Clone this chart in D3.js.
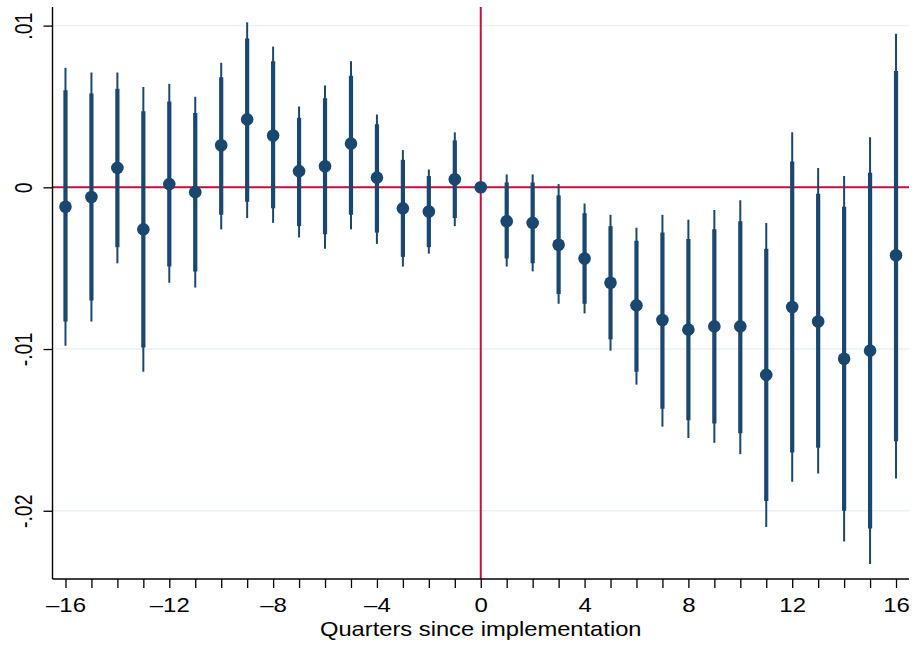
<!DOCTYPE html>
<html>
<head>
<meta charset="utf-8">
<script src="https://cdn.jsdelivr.net/npm/d3@7"></script>
<style>
  html, body { margin: 0; padding: 0; background: #fff; }
  svg { display: block; font-family: "Liberation Sans", Arial, Helvetica, sans-serif; }
</style>
</head>
<body>
<svg id="chart" width="912" height="648"></svg>
<script>
// Event-study estimates by quarter relative to implementation (quarter 0 is the reference)
const quarters = [-16,-15,-14,-13,-12,-11,-10,-9,-8,-7,-6,-5,-4,-3,-2,-1,0,1,2,3,4,5,6,7,8,9,10,11,12,13,14,15,16];
const estimate = [-0.0012,-0.0006,0.0012,-0.0026,0.0002,-0.0003,0.0026,0.0042,0.0032,0.0010,0.0013,0.0027,0.0006,-0.0013,-0.0015,0.0005,0,
  -0.0021,-0.0022,-0.00355,-0.0044,-0.0059,-0.0073,-0.0082,-0.0088,-0.0086,-0.0086,-0.0116,-0.0074,-0.0083,-0.0106,-0.0101,-0.0042];
// Inner (thick) confidence band
const lo90 = [-0.0083,-0.0070,-0.0037,-0.0099,-0.0049,-0.0052,-0.0017,-0.0009,-0.0013,-0.0024,-0.0029,-0.0017,-0.0028,-0.0043,-0.0037,-0.0019,null,
  -0.0044,-0.0047,-0.0066,-0.0072,-0.0094,-0.0114,-0.0137,-0.0144,-0.0146,-0.0152,-0.0194,-0.0164,-0.0161,-0.0200,-0.0211,-0.0157];
const hi90 = [0.0060,0.0058,0.0061,0.0047,0.0053,0.0046,0.0068,0.0092,0.0078,0.0043,0.0055,0.0069,0.0039,0.0017,0.0007,0.0029,null,
  0.0003,0.0003,-0.0005,-0.0016,-0.0024,-0.0033,-0.0028,-0.0032,-0.0026,-0.0021,-0.0038,0.0016,-0.0004,-0.0012,0.0009,0.0072];
// Outer (thin) confidence band
const lo95 = [-0.0098,-0.0083,-0.0047,-0.0114,-0.0059,-0.0062,-0.0026,-0.0019,-0.0022,-0.0031,-0.0038,-0.0026,-0.0035,-0.0049,-0.0041,-0.0024,null,
  -0.0049,-0.0052,-0.0072,-0.0078,-0.0101,-0.0122,-0.0148,-0.0155,-0.0158,-0.0165,-0.0210,-0.0182,-0.0177,-0.0219,-0.0233,-0.0180];
const hi95 = [0.0074,0.0071,0.0071,0.0062,0.0064,0.0056,0.0077,0.0102,0.0087,0.0050,0.0063,0.0078,0.0045,0.0023,0.0011,0.0034,null,
  0.0008,0.0008,0.0002,-0.0010,-0.0017,-0.0025,-0.0017,-0.0020,-0.0014,-0.0008,-0.0022,0.0034,0.0012,0.0007,0.0031,0.0095];

const xTickValues = [-16,-12,-8,-4,0,4,8,12,16];
const yTickValues = [0.01, 0, -0.01, -0.02];
const yTickLabels = [".01", "0", "-.01", "-.02"];
const xTitle = "Quarters since implementation";

const navy = "#1a476f";
const red = "#c8103a";
const grid = "#eaf2f3";

const plot = { left: 52.5, right: 909, top: 7, bottom: 579 };

const svg = d3.select("#chart");

const x = d3.scaleLinear().domain([-16.5, 16.5]).range([plot.left, plot.right]);
const y = d3.scaleLinear().domain([-0.02422, 0.01115]).range([plot.bottom, plot.top]);

const rows = quarters.map((q, i) => ({
  q, est: estimate[i], lo90: lo90[i], hi90: hi90[i], lo95: lo95[i], hi95: hi95[i]
}));

// Horizontal grid lines
svg.append("g")
  .selectAll("line")
  .data(yTickValues)
  .join("line")
  .attr("x1", plot.left).attr("x2", plot.right)
  .attr("y1", d => y(d)).attr("y2", d => y(d))
  .attr("stroke", grid).attr("stroke-width", 1.5);

// Reference lines at zero effect and at implementation
svg.append("line")
  .attr("x1", plot.left).attr("x2", plot.right)
  .attr("y1", y(0)).attr("y2", y(0))
  .attr("stroke", red).attr("stroke-width", 2);
svg.append("line")
  .attr("x1", x(0)).attr("x2", x(0))
  .attr("y1", plot.top).attr("y2", plot.bottom)
  .attr("stroke", red).attr("stroke-width", 2);

const ci = rows.filter(d => d.lo95 !== null);

// Outer intervals (thin)
svg.append("g")
  .selectAll("line")
  .data(ci)
  .join("line")
  .attr("x1", d => x(d.q)).attr("x2", d => x(d.q))
  .attr("y1", d => y(d.lo95)).attr("y2", d => y(d.hi95))
  .attr("stroke", navy).attr("stroke-width", 2).attr("stroke-linecap", "butt");

// Inner intervals (thick)
svg.append("g")
  .selectAll("line")
  .data(ci)
  .join("line")
  .attr("x1", d => x(d.q)).attr("x2", d => x(d.q))
  .attr("y1", d => y(d.lo90)).attr("y2", d => y(d.hi90))
  .attr("stroke", navy).attr("stroke-width", 4.2).attr("stroke-linecap", "butt");

// Point estimates
svg.append("g")
  .selectAll("circle")
  .data(rows)
  .join("circle")
  .attr("cx", d => x(d.q)).attr("cy", d => y(d.est))
  .attr("r", 6.3)
  .attr("fill", navy);

// X axis
const xAxis = d3.axisBottom(x)
  .tickValues(d3.range(-16, 17))
  .tickSize(9)
  .tickSizeOuter(0)
  .tickFormat(d => xTickValues.includes(d) ? (d < 0 ? "\u2013" + Math.abs(d) : String(d)) : "");

const gx = svg.append("g")
  .attr("transform", `translate(0,${plot.bottom})`)
  .call(xAxis);
gx.select(".domain").attr("stroke", "#000").attr("stroke-width", 1.4)
  .attr("d", `M${plot.left},0H${plot.right}`);
gx.selectAll(".tick line").attr("stroke", "#000").attr("stroke-width", 1.3);
gx.selectAll(".tick text")
  .attr("y", null).attr("dy", null)
  .attr("transform", "translate(0,32.5) scale(1.2,1)")
  .attr("fill", "#000")
  .style("font-size", "20px")
  .style("font-family", "'Liberation Sans', Arial, sans-serif");

// X axis title
svg.append("text")
  .attr("transform", `translate(${(plot.left + plot.right) / 2},636) scale(1.13,1)`)
  .attr("text-anchor", "middle")
  .style("font-size", "21px")
  .attr("fill", "#000")
  .text(xTitle);

// Y axis
const yAxis = d3.axisLeft(y)
  .tickValues(yTickValues)
  .tickSize(9)
  .tickSizeOuter(0)
  .tickFormat((d, i) => yTickLabels[i]);

const gy = svg.append("g")
  .attr("transform", `translate(${plot.left},0)`)
  .call(yAxis);
gy.select(".domain").attr("stroke", "#000").attr("stroke-width", 1.4)
  .attr("d", `M0,${plot.top}V${plot.bottom}`);
gy.selectAll(".tick line").attr("stroke", "#000").attr("stroke-width", 1.3);
gy.selectAll(".tick text")
  .attr("x", null).attr("dy", null)
  .attr("text-anchor", "middle")
  .attr("transform", "translate(-20.3,0) scale(1.27,1) rotate(-90)")
  .attr("fill", "#000")
  .style("font-size", "19.5px")
  .style("font-family", "'Liberation Sans', Arial, sans-serif");
</script>
</body>
</html>
